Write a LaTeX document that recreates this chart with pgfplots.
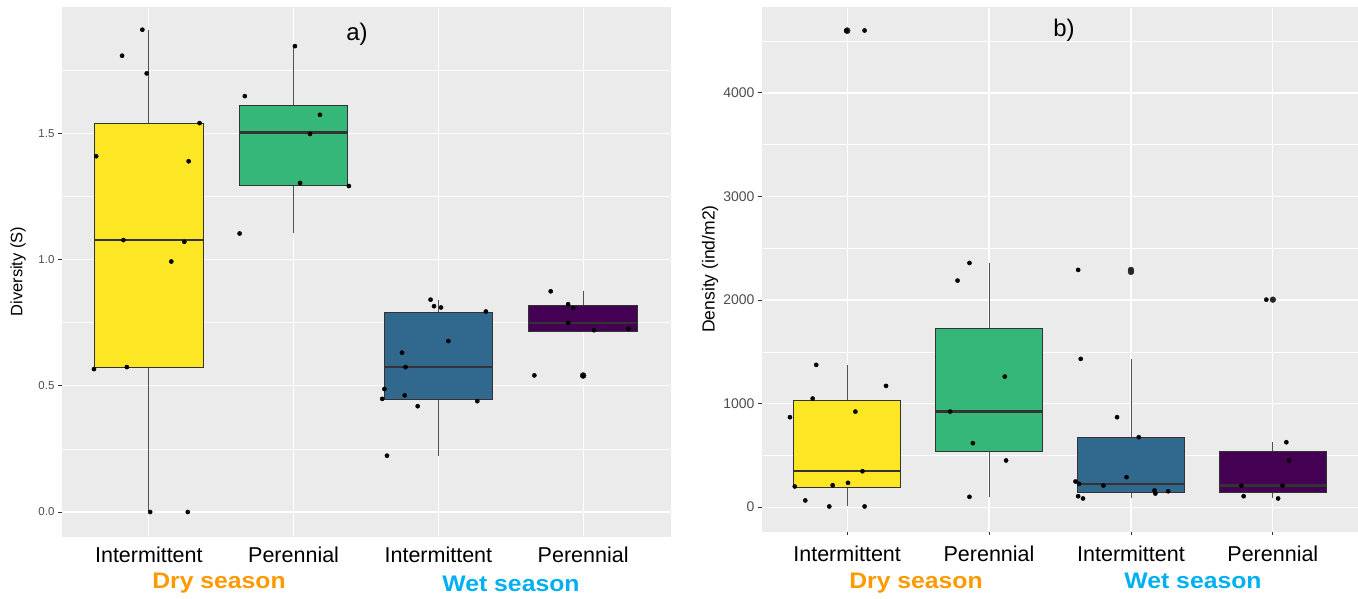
\documentclass[border=0pt]{standalone}
\usepackage{fontspec}
\setmainfont{Liberation Sans}
\usepackage{pgfplots}
\pgfplotsset{compat=1.18}

\definecolor{ggbg}{HTML}{EBEBEB}
\definecolor{ggtick}{HTML}{4D4D4D}
\definecolor{ggline}{HTML}{333333}
\definecolor{vyellow}{HTML}{FDE725}
\definecolor{vgreen}{HTML}{35B779}
\definecolor{vblue}{HTML}{31688E}
\definecolor{vpurple}{HTML}{440154}
\definecolor{dryorange}{HTML}{FF9900}
\definecolor{wetblue}{HTML}{00B0F0}

\pgfplotsset{
  ggstyle/.style={
    scale only axis,
    axis background/.style={fill=ggbg},
    axis line style={draw=ggbg, line width=0.1pt},
    xmin=0.4, xmax=4.6,
    xtick={1,2,3,4},
    xticklabels={Intermittent,Perennial,Intermittent,Perennial},
    xtick pos=bottom, ytick pos=left,
    xmajorgrids, ymajorgrids, yminorgrids,
    major grid style={white, line width=1.2pt},
    minor grid style={white, line width=0.6pt},
    tick align=outside,
    major tick length=4pt,
    minor tick length=0pt,
    every tick/.style={draw=ggline, line width=0.9pt},
    /pgf/number format/assume math mode=true,
    yticklabel style={text=ggtick},
    xticklabel style={font=\fontsize{21.5}{21.5}\selectfont, text=black, anchor=center},
    ylabel style={at={(rel axis cs:0,0.5)}, anchor=center},
    clip=false,
  },
  whisk/.style={ggline!85, line width=0.8pt, no marks},
  boxs/.style={draw=ggline, line width=1pt, fill=#1, no marks},
  med/.style={ggline, line width=2.2pt, no marks},
  jit/.style={only marks, mark=*, mark size=2.1pt, black},
  outl/.style={only marks, mark=*, mark size=2.9pt, black!85},
}

\begin{document}
\begin{tikzpicture}
\useasboundingbox (0,0) rectangle (1358pt,599pt);

% ---------------- Panel a) Diversity ----------------
\begin{axis}[ggstyle,
  at={(62pt,63pt)}, anchor=south west,
  width=608pt, height=529pt,
  ymin=-0.095, ymax=2.0,
  ytick={0,0.5,1,1.5},
  minor ytick={0.25,0.75,1.25,1.75},
  yticklabel style={font=\fontsize{11.5}{11.5}\selectfont, /pgf/number format/.cd, fixed, fixed zerofill, precision=1, /tikz/.cd},
  xtick style={draw=none},
  xticklabel style={yshift=-15pt},
  ylabel={Diversity (S)},
  ylabel style={font=\fontsize{16.5}{16.5}\selectfont, yshift=44pt},
]
% Dry / Intermittent
\addplot[whisk] coordinates {(1,0) (1,0.573)};
\addplot[whisk] coordinates {(1,1.538) (1,1.909)};
\addplot[boxs=vyellow] coordinates {(0.625,0.573) (1.375,0.573) (1.375,1.538) (0.625,1.538)} -- cycle;
\addplot[med] coordinates {(0.625,1.077) (1.375,1.077)};
% Dry / Perennial
\addplot[whisk] coordinates {(2,1.103) (2,1.294)};
\addplot[whisk] coordinates {(2,1.608) (2,1.845)};
\addplot[boxs=vgreen] coordinates {(1.625,1.294) (2.375,1.294) (2.375,1.608) (1.625,1.608)} -- cycle;
\addplot[med] coordinates {(1.625,1.503) (2.375,1.503)};
% Wet / Intermittent
\addplot[whisk] coordinates {(3,0.223) (3,0.445)};
\addplot[whisk] coordinates {(3,0.792) (3,0.841)};
\addplot[boxs=vblue] coordinates {(2.625,0.445) (3.375,0.445) (3.375,0.792) (2.625,0.792)} -- cycle;
\addplot[med] coordinates {(2.625,0.574) (3.375,0.574)};
% Wet / Perennial
\addplot[whisk] coordinates {(4,0.816) (4,0.874)};
\addplot[boxs=vpurple] coordinates {(3.625,0.716) (4.375,0.716) (4.375,0.816) (3.625,0.816)} -- cycle;
\addplot[med] coordinates {(3.625,0.749) (4.375,0.749)};

\addplot[outl] coordinates {(4,0.54) (4,0.541)};

\addplot[jit] coordinates {
(0.955,1.91) (0.815,1.807) (0.985,1.737) (1.35,1.54) (0.636,1.409) (1.275,1.389)
(0.824,1.077) (1.245,1.07) (1.155,0.992) (0.621,0.566) (0.848,0.574) (1.009,0.0) (1.269,0.0)
};
\addplot[jit] coordinates {
(2.009,1.845) (1.663,1.647) (2.182,1.573) (2.113,1.497) (2.045,1.303) (2.382,1.291) (1.627,1.103)
};
\addplot[jit] coordinates {
(2.946,0.841) (2.97,0.815) (3.018,0.81) (3.328,0.794) (3.069,0.677) (2.749,0.631) (2.773,0.574)
(2.627,0.487) (2.612,0.448) (2.767,0.462) (2.857,0.419) (3.269,0.439) (2.645,0.223)
};
\addplot[jit] coordinates {
(3.776,0.874) (3.896,0.823) (3.931,0.808) (3.896,0.749) (4.075,0.72) (4.313,0.725) (3.663,0.541) (4.0,0.54)
};
\end{axis}

% ---------------- Panel b) Density ----------------
\begin{axis}[ggstyle,
  at={(762pt,68pt)}, anchor=south west,
  width=596pt, height=524pt,
  ymin=-230, ymax=4830,
  ytick={0,1000,2000,3000,4000},
  minor ytick={500,1500,2500,3500,4500},
  yticklabel style={font=\fontsize{14}{14}\selectfont, /pgf/number format/.cd, 1000 sep={}, /tikz/.cd},
  xticklabel style={yshift=-19pt},
  ylabel={Density (ind/m2)},
  ylabel style={font=\fontsize{17.5}{17.5}\selectfont, yshift=52pt},
]
% Dry / Intermittent
\addplot[whisk] coordinates {(1,7) (1,193)};
\addplot[whisk] coordinates {(1,1033) (1,1374)};
\addplot[boxs=vyellow] coordinates {(0.625,193) (1.375,193) (1.375,1033) (0.625,1033)} -- cycle;
\addplot[med] coordinates {(0.625,347) (1.375,347)};
% Dry / Perennial
\addplot[whisk] coordinates {(2,100) (2,534)};
\addplot[whisk] coordinates {(2,1721) (2,2358)};
\addplot[boxs=vgreen] coordinates {(1.625,534) (2.375,534) (2.375,1721) (1.625,1721)} -- cycle;
\addplot[med] coordinates {(1.625,923) (2.375,923)};
% Wet / Intermittent
\addplot[whisk] coordinates {(3,84) (3,145)};
\addplot[whisk] coordinates {(3,673) (3,1432)};
\addplot[boxs=vblue] coordinates {(2.625,145) (3.375,145) (3.375,673) (2.625,673)} -- cycle;
\addplot[med] coordinates {(2.625,226) (3.375,226)};
% Wet / Perennial
\addplot[whisk] coordinates {(4,84) (4,145)};
\addplot[whisk] coordinates {(4,534) (4,627)};
\addplot[boxs=vpurple] coordinates {(3.625,145) (4.375,145) (4.375,534) (3.625,534)} -- cycle;
\addplot[med] coordinates {(3.625,209) (4.375,209)};

\addplot[outl] coordinates {(1,4600) (1,4603) (3,2291) (3,2272) (4,2004)};

\addplot[jit] coordinates {
(0.597,869) (0.782,1374) (0.757,1049) (1.274,1171) (1.058,923) (1.108,347) (1.006,235)
(0.898,212) (0.631,200) (0.705,65) (0.874,7) (1.123,7) (0.994,4600) (1.123,4603)
};
\addplot[jit] coordinates {
(1.778,2188) (1.862,2358) (2.111,1261) (1.726,923) (1.886,618) (2.12,451) (1.862,100)
};
\addplot[jit] coordinates {
(2.628,2291) (2.646,1432) (2.902,869) (3.055,676) (2.969,290) (2.609,248) (2.634,226)
(2.806,209) (3.166,161) (3.172,132) (3.262,154) (2.628,106) (2.662,84)
};
\addplot[jit] coordinates {
(3.954,2004) (4.095,627) (4.114,451) (3.778,209) (4.068,209) (3.794,106) (4.037,84)
};
\end{axis}

% panel tags
\node[font=\fontsize{24}{24}\selectfont] at (357pt,565pt) {a)};
\node[font=\fontsize{24}{24}\selectfont] at (1064pt,569pt) {b)};

% season labels
\node[anchor=base, text=dryorange, font=\bfseries\fontsize{22.5}{22.5}\selectfont, xscale=1.1] at (219pt,10pt) {Dry season};
\node[anchor=base, text=wetblue, font=\bfseries\fontsize{22.5}{22.5}\selectfont, xscale=1.1] at (511pt,7pt) {Wet season};
\node[anchor=base, text=dryorange, font=\bfseries\fontsize{22.5}{22.5}\selectfont, xscale=1.1] at (916pt,10pt) {Dry season};
\node[anchor=base, text=wetblue, font=\bfseries\fontsize{22.5}{22.5}\selectfont, xscale=1.1] at (1193pt,10pt) {Wet season};
\end{tikzpicture}
\end{document}
